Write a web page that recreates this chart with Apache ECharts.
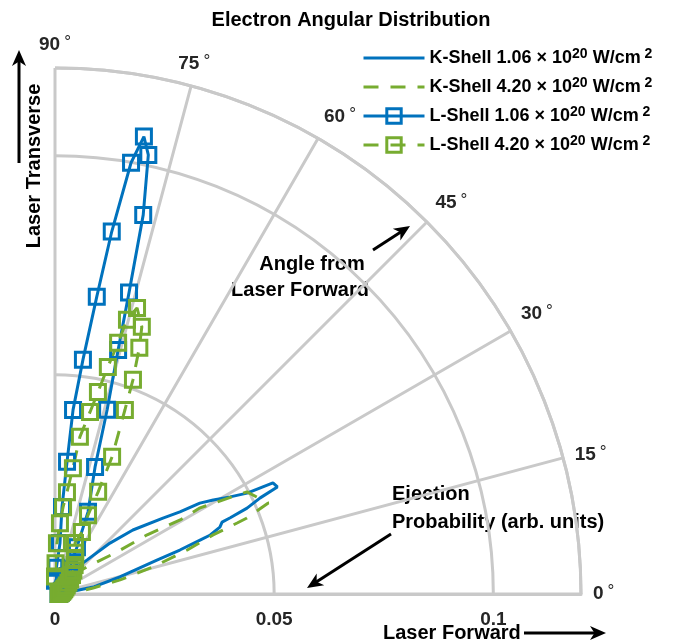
<!DOCTYPE html>
<html><head><meta charset="utf-8">
<script src="https://cdn.jsdelivr.net/npm/echarts@6/dist/echarts.min.js"></script>
<style>html,body{margin:0;padding:0;background:#fff}#c{width:678px;height:644px}</style>
</head><body><div id="c"></div>
<script>
// ---- data: [radius, angle(deg)] ----
const seriesNames = ['K-Shell 1.06', 'K-Shell 4.20', 'L-Shell 1.06', 'L-Shell 4.20'];
const kShell106 = [[0.0010,0],[0.0025,5],[0.0042,8.5],[0.0088,10.4],[0.0153,14.7],[0.0245,18.4],[0.0302,19.4],[0.0353,20.4],[0.0379,20.8],[0.0406,22.1],[0.0415,23.3],[0.0436,23.5],[0.0480,24.1],[0.0517,25.1],[0.0563,25.7],[0.0558,27.0],[0.0495,27.7],[0.0457,29.0],[0.0420,30.7],[0.0390,32.1],[0.0341,33.3],[0.0301,35.1],[0.0230,39.4],[0.0171,42.8],[0.0107,46.7],[0.0068,53.0],[0.0040,60],[0.0020,75],[0.0010,90]];
const kShell420 = [[0.0010,0],[0.0041,3],[0.0088,9],[0.0152,12.2],[0.0232,15.4],[0.0318,18.4],[0.0385,20.5],[0.0446,21.3],[0.0471,21.6],[0.0529,23.1],[0.0496,28.0],[0.0473,28.5],[0.0385,30.7],[0.0332,30.6],[0.0250,32.7],[0.0171,34.1],[0.0096,40.2],[0.0050,50],[0.0030,65],[0.0010,90]];
const lShell106 = [[0.0008,0],[0.0010,5],[0.0012,10],[0.0014,15],[0.0016,20],[0.0018,25],[0.0021,30],[0.0024,35],[0.0028,40],[0.0033,45],[0.0040,50],[0.0050,55],[0.0065,60],[0.0118,64.9],[0.0202,68.1],[0.0304,72.5],[0.0437,74.2],[0.0575,75.5],[0.0708,76.2],[0.0888,76.9],[0.1024,78.0],[0.1063,79.0],[0.0999,80.0],[0.0837,81.1],[0.0685,82.0],[0.0538,83.2],[0.0422,84.4],[0.0303,84.8],[0.0199,85.4],[0.0117,84.4],[0.0060,87],[0.0030,90]];
const lShell420 = [[0.0008,0],[0.0010,4],[0.0012,8],[0.0014,12],[0.0016,16],[0.0018,20],[0.0021,24],[0.0024,28],[0.0028,32],[0.0033,36],[0.0040,40],[0.0048,44],[0.0058,48],[0.0068,52],[0.0080,56],[0.0092,60],[0.0105,64],[0.0125,68.6],[0.0154,66.5],[0.0195,67.3],[0.0253,67.1],[0.0339,67.4],[0.0449,69.2],[0.0520,70.0],[0.0594,71.1],[0.0641,72.0],[0.0679,74.0],[0.0647,75.3],[0.0591,75.9],[0.0532,76.9],[0.0471,78.0],[0.0423,79.1],[0.0363,81.0],[0.0290,81.9],[0.0234,83.3],[0.0199,84.7],[0.0162,86.0],[0.0116,87.8],[0.0070,89],[0.0040,90]];
const angleRange = [0, 90];
const angleStep = 15;
const radiusRange = [0, 0.12];
const radiusStep = 0.05;

const BLUE = '#0072BD', GREEN = '#77AC30', GRID = '#c9c9c9', FONT = 'Liberation Sans';

function arrow(x1, y1, x2, y2) {
  const dx = x2 - x1, dy = y2 - y1, L = Math.hypot(dx, dy), ux = dx / L, uy = dy / L, nx = -uy, ny = ux;
  const hl = 16, hw = 7;
  const bx = x2 - ux * hl, by = y2 - uy * hl;
  return [
    { type: 'line', shape: { x1, y1, x2: x2 - ux * hl * 0.6, y2: y2 - uy * hl * 0.6 }, style: { stroke: '#000', lineWidth: 3 } },
    { type: 'polygon', shape: { points: [[x2, y2], [bx + nx * hw, by + ny * hw], [x2 - ux * hl * 0.72, y2 - uy * hl * 0.72], [bx - nx * hw, by - ny * hw]] }, style: { fill: '#000' } }
  ];
}
function txt(x, y, s, extra) {
  return { type: 'text', x, y, style: Object.assign({ text: s, font: 'bold 20px "' + FONT + '"', fill: '#000', textVerticalAlign: 'middle' }, extra || {}) };
}

const chart = echarts.init(document.getElementById('c'), null, { renderer: 'canvas' });
const lineSeries = (name, data, color, dashed, marker) => ({
  name, type: 'line', coordinateSystem: 'polar', data,
  showSymbol: !!marker, symbol: marker ? 'rect' : 'none', symbolSize: 15,
  lineStyle: { color, width: 3, type: dashed ? [15, 12] : 'solid' },
  itemStyle: marker ? { color: 'rgba(255,255,255,0)', borderColor: color, borderWidth: 3 }
                    : { color: 'rgba(255,255,255,0)', borderWidth: 0 },
  emphasis: { disabled: true }, animation: false
});

chart.setOption({
  animation: false,
  title: { text: 'Electron Angular Distribution', left: 346, top: 5, textAlign: 'center',
    textStyle: { fontFamily: FONT, fontWeight: 'bold', fontSize: 20, color: '#000' } },
  polar: { center: [55, 594], radius: 526 },
  angleAxis: {
    type: 'value', min: angleRange[0], max: angleRange[1], interval: angleStep,
    startAngle: 0, endAngle: 90, clockwise: false,
    axisLine: { lineStyle: { color: GRID, width: 3 } },
    axisTick: { show: false },
    splitLine: { show: true, lineStyle: { color: GRID, width: 3 } },
    axisLabel: {
      margin: 12,
      formatter: v => '{n|' + v + '}{d|°}',
      rich: {
        n: { fontFamily: FONT, fontWeight: 'bold', fontSize: 19, color: '#262626', lineHeight: 22 },
        d: { fontFamily: FONT, fontSize: 17, color: '#262626', lineHeight: 10, verticalAlign: 'top', padding: [0, 0, 0, 4] }
      }
    }
  },
  radiusAxis: {
    type: 'value', min: radiusRange[0], max: radiusRange[1], interval: radiusStep,
    axisLine: { show: true, lineStyle: { color: GRID, width: 3 } },
    axisTick: { show: false },
    splitLine: { show: true, lineStyle: { color: GRID, width: 3 } },
    axisLabel: { margin: -26, verticalAlign: 'middle', showMaxLabel: false,
      fontFamily: FONT, fontWeight: 'bold', fontSize: 19, color: '#262626',
      formatter: v => (Math.abs(v - 0.12) < 1e-9 ? '' : String(+v.toFixed(3))) }
  },
  legend: {
    orient: 'vertical', left: 362, top: 47, padding: 0, itemWidth: 61, itemHeight: 18, itemGap: 9,
    lineStyle: { width: 3 },
    data: seriesNames.map((n, i) => i < 2 ? { name: n, itemStyle: { borderWidth: 0 } } : { name: n, itemStyle: { borderWidth: 3 } }),
    formatter: name => '{t|' + name + ' × 10}{s|20}{t| W/cm}{s| 2}',
    textStyle: {
      rich: {
        t: { fontFamily: FONT, fontWeight: 'bold', fontSize: 18, color: '#000', lineHeight: 22 },
        s: { fontFamily: FONT, fontWeight: 'bold', fontSize: 14, color: '#000', lineHeight: 13, verticalAlign: 'top' }
      }
    }
  },
  series: [
    lineSeries(seriesNames[0], kShell106, BLUE, false, false),
    lineSeries(seriesNames[1], kShell420, GREEN, true, false),
    lineSeries(seriesNames[2], lShell106, BLUE, false, true),
    lineSeries(seriesNames[3], lShell420, GREEN, true, true)
  ],
  graphic: [
    ...arrow(373, 250, 410, 226),
    ...arrow(391, 534, 307, 588),
    ...arrow(19, 163, 19, 50),
    ...arrow(524, 633, 606, 633),
    txt(312, 264, 'Angle from', { textAlign: 'center' }),
    txt(300, 290, 'Laser Forward', { textAlign: 'center' }),
    txt(392, 494, 'Ejection', { textAlign: 'left' }),
    txt(392, 522, 'Probability (arb. units)', { textAlign: 'left' }),
    txt(383, 633, 'Laser Forward', { textAlign: 'left' }),
    { type: 'text', x: 34, y: 166, rotation: Math.PI / 2,
      style: { text: 'Laser Transverse', font: 'bold 20px "' + FONT + '"', fill: '#000', textAlign: 'center', textVerticalAlign: 'middle' } }
  ]
});
</script></body></html>
